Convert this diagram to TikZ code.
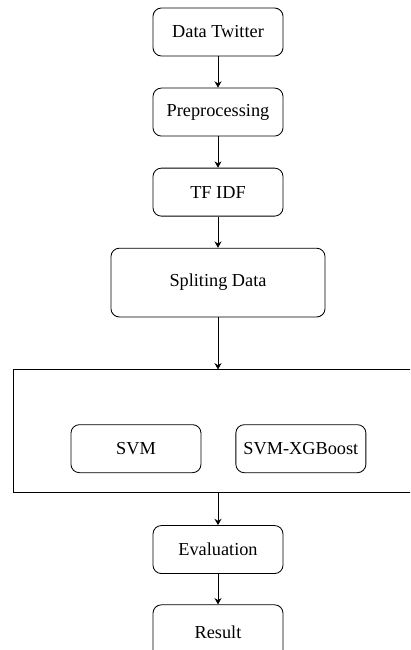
\documentclass[tikz,border=0pt]{standalone}
\usepackage{fontspec}
\setmainfont{Liberation Serif}
\usetikzlibrary{positioning}
\usetikzlibrary{arrows.meta}

\begin{document}
\begin{tikzpicture}[
            x = 0.025cm, y = -0.025cm, % pixel grid, y down
            > = {Stealth[length=4.5pt,width=5pt]}, % arrow head style
            semithick, % line style
            font = \fontsize{13}{15}\selectfont
        ]

        \tikzset{
            stage/.style = {draw, rounded corners = 6pt, minimum width = 3.25cm, minimum height = 1.2cm, inner sep = 2pt},
            bigstage/.style = {stage, minimum width = 5.35cm, minimum height = 1.72cm},
            group/.style = {draw, sharp corners, minimum width = 10.25cm, minimum height = 3.07cm}
        }

        \clip (0,0) rectangle (410,650);
        \useasboundingbox (0,0) rectangle (410,650);

        \node[stage] (data) at (218,32) {Data Twitter};
        \node[stage] (prep) [below = 0.78cm of data] {Preprocessing};
        \node[stage] (tfidf) [below = 0.78cm of prep] {TF IDF};
        \node[bigstage] (split) [below = 0.78cm of tfidf] {Spliting Data};

        \node[group] (models) [below = 1.3cm of split] {};
        \node[stage] (svm) [above right = 0.5cm and 1.45cm of models.south west] {SVM};
        \node[stage] (svmxgb) [right = 0.85cm of svm] {SVM-XGBoost};

        \node[stage] (eval) [below = 0.8cm of models] {Evaluation};
        \node[stage, minimum height = 1.35cm] (result) [below = 0.76cm of eval] {Result};

        \draw[->] (data) -- (prep);
        \draw[->] (prep) -- (tfidf);
        \draw[->] (tfidf) -- (split);
        \draw[->] (split) -- (models);
        \draw[->] (models) -- (eval);
        \draw[->] (eval) -- (result);

\end{tikzpicture}
\end{document}
